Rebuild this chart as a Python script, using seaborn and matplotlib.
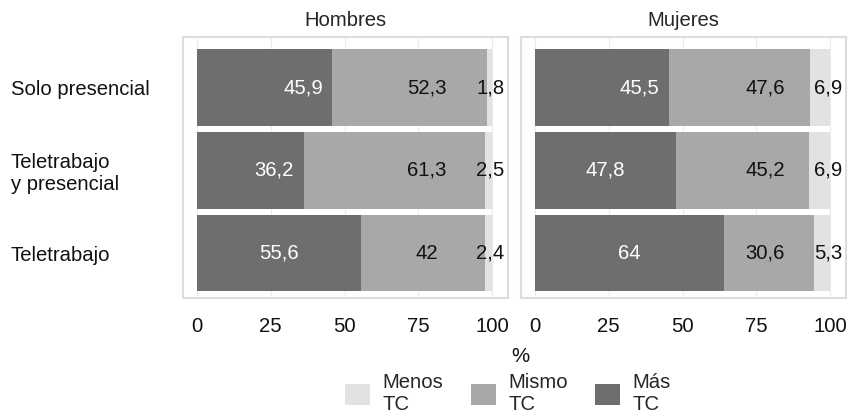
import matplotlib
matplotlib.use("Agg")
import matplotlib.pyplot as plt
from matplotlib.patches import Patch
import seaborn as sns
import pandas as pd
import numpy as np

categories = ["Solo presencial", "Teletrabajo\ny presencial", "Teletrabajo"]
panels = ["Hombres", "Mujeres"]
mas = {"Hombres": [45.9, 36.2, 55.6], "Mujeres": [45.5, 47.8, 64]}
mismo = {"Hombres": [52.3, 61.3, 42], "Mujeres": [47.6, 45.2, 30.6]}
menos = {"Hombres": [1.8, 2.5, 2.4], "Mujeres": [6.9, 6.9, 5.3]}
xticks = [0, 25, 50, 75, 100]
legend_labels = ["Menos\nTC", "Mismo\nTC", "Más\nTC"]

c_mas, c_mismo, c_menos = "#6d6e70", "#a7a8aa", "#e1e2e4"

sns.set_theme(style="white")
plt.rcParams["font.family"] = ["Liberation Sans", "DejaVu Sans"]
FS = 14.6
FSL = 14.6

def fmt(v):
    s = f"{v:g}"
    return s.replace(".", ",")

fig = plt.figure(figsize=(8.54, 4.17), dpi=100)
W, H = 854, 417
axes = []
for i, p in enumerate(panels):
    left = (183 if i == 0 else 521) / W
    ax = fig.add_axes([left, 1 - 298 / H, 325 / W, 261 / H])
    axes.append(ax)
    a = np.array(mas[p]); b = np.array(mismo[p]); c = np.array(menos[p])
    df = pd.DataFrame({"cat": categories, "total": a + b + c, "mm": a + b, "mas": a})
    ax.grid(axis="x", color="#ececec", linewidth=0.8)
    ax.set_axisbelow(True)
    kw = dict(width=0.92, ax=ax, saturation=1, orient="h", linewidth=0, edgecolor="none")
    sns.barplot(data=df, y="cat", x="total", color=c_menos, **kw)
    sns.barplot(data=df, y="cat", x="mm", color=c_mismo, **kw)
    sns.barplot(data=df, y="cat", x="mas", color=c_mas, **kw)
    for j in range(3):
        xm = a[j] - 10 if a[j] < 46 else a[j] / 2
        ax.text(xm, j, fmt(a[j]), color="white", ha="center", va="center", fontsize=FSL)
        ax.text(78, j, fmt(b[j]), color="#111111", ha="center", va="center", fontsize=FSL)
        ax.text(99.5, j, fmt(c[j]), color="#111111", ha="center", va="center", fontsize=FSL)
    ax.set_xlim(-4.75, 105.4)
    ax.set_ylim(2.54, -0.61)
    ax.set_xticks(xticks)
    ax.set_xticklabels([str(t) for t in xticks], fontsize=FS)
    ax.set_xlabel("")
    ax.set_ylabel("")
    ax.set_title(p, fontsize=FS, pad=8)
    for s in ax.spines.values():
        s.set_visible(True)
        s.set_color("#dcdcdc")
        s.set_linewidth(1.5)
    ax.tick_params(axis="x", length=4, color="#dcdcdc", pad=10, labelcolor="#111111")
    ax.set_yticks(range(3))
    if i == 0:
        ax.set_yticklabels(categories, fontsize=FS, ha="left", color="#111111")
        ax.tick_params(axis="y", length=4, color="#dcdcdc", pad=120)
    else:
        ax.set_yticklabels([])
        ax.tick_params(axis="y", length=4, color="#dcdcdc")

fig.text(520 / W, 1 - 356 / H, "%", ha="center", va="center", fontsize=FS, color="#111111")
handles = [Patch(facecolor=col, edgecolor="none") for col in (c_menos, c_mismo, c_mas)]
fig.legend(handles, legend_labels, loc="center", bbox_to_anchor=(508 / W, 1 - 394 / H), ncol=3,
           frameon=False, fontsize=FS, handlelength=1.23, handleheight=1.23, columnspacing=1.35,
           handletextpad=0.62, labelspacing=0.2, borderpad=0)
fig.savefig("out.png", dpi=100)
